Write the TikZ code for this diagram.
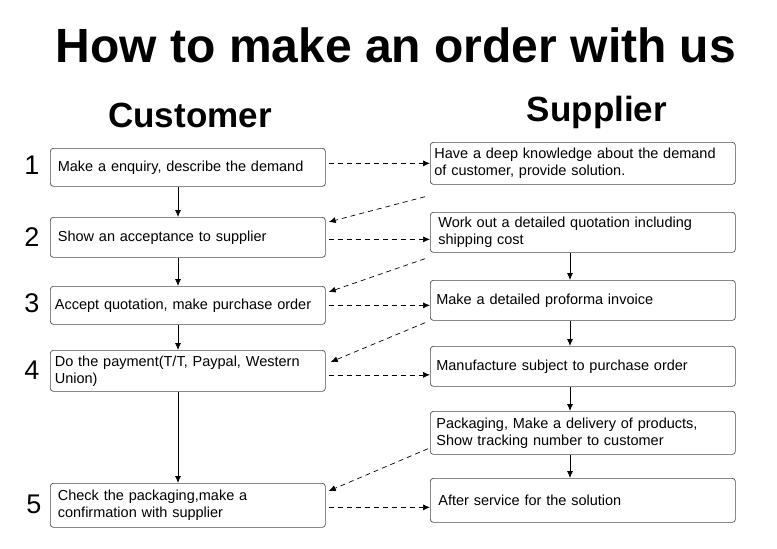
\documentclass[tikz,border=0pt]{standalone}
\usepackage{fontspec}
\setmainfont{Liberation Sans}
\usetikzlibrary{arrows.meta}
\begin{document}
\begin{tikzpicture}[x=1pt,y=-1pt,
 box/.style={draw=black!70,rounded corners=3pt,line width=0.7pt,anchor=north west,inner xsep=0pt,inner ysep=0pt,align=left,font=\fontsize{14.5}{17}\selectfont},
 num/.style={font=\fontsize{27}{27}\selectfont},
 sarr/.style={-{Latex[length=7pt,width=6pt]},line width=0.8pt},
 darr/.style={-{Latex[length=7pt,width=6pt]},dash pattern=on 5pt off 4pt,line width=0.7pt}]
\useasboundingbox (0,0) rectangle (777,549);
\node[font=\bfseries\fontsize{48}{48}\selectfont] (title) at (396,45) {How to make an order with us};
\node[font=\bfseries\fontsize{35}{35}\selectfont] (cust) at (190,115) {Customer};
\node[font=\bfseries\fontsize{35}{35}\selectfont] (sup) at (597,112) {Supplier};
% left boxes
\node[box,minimum width=275pt,minimum height=38pt,text width=272pt] (L1) at (50,148) {\hspace*{6pt}Make a enquiry, describe the demand};
\node[box,minimum width=275pt,minimum height=40pt,text width=272pt] (L2) at (50,217) {\hspace*{6pt}Show an acceptance to supplier};
\node[box,minimum width=275pt,minimum height=38pt,text width=272pt] (L3) at (50,286) {\hspace*{3pt}Accept quotation, make purchase order};
\node[box,minimum width=275pt,minimum height=41pt,text width=272pt] (L4) at (50,350) {\hspace*{3pt}Do the payment(T/T, Paypal, Western\\\hspace*{3pt}Union)};
\node[box,minimum width=275pt,minimum height=44pt,text width=272pt] (L5) at (50,483) {\hspace*{6pt}Check the packaging,make a\\\hspace*{6pt}confirmation with supplier};
% right boxes
\node[box,minimum width=305pt,minimum height=42pt,text width=303pt] (R1) at (430,142) {\hspace*{3pt}Have a deep knowledge about the demand\\\hspace*{3pt}of customer, provide solution.};
\node[box,minimum width=305pt,minimum height=40pt,text width=303pt] (R2) at (430,212) {\hspace*{7pt}Work out a detailed quotation including\\\hspace*{7pt}shipping cost};
\node[box,minimum width=305pt,minimum height=40pt,text width=303pt] (R3) at (430,280) {\hspace*{5pt}Make a detailed proforma invoice};
\node[box,minimum width=305pt,minimum height=40pt,text width=303pt] (R4) at (430,346) {\hspace*{5pt}Manufacture subject to purchase order};
\node[box,minimum width=305pt,minimum height=43pt,text width=303pt] (R5) at (430,411) {\hspace*{5pt}Packaging, Make a delivery of products,\\\hspace*{5pt}Show tracking number to customer};
\node[box,minimum width=305pt,minimum height=44pt,text width=303pt] (R6) at (430,478) {\hspace*{7pt}After service for the solution};
% numbers
\node[num] (n1) at (32,165) {1};
\node[num] (n2) at (32,237) {2};
\node[num] (n3) at (32,303) {3};
\node[num] (n4) at (32,370) {4};
\node[num] (n5) at (34,504) {5};
% vertical arrows
\draw[sarr] (L1.south -| 178,0) -- (L2.north -| 178,0);
\draw[sarr] (L2.south -| 178,0) -- (L3.north -| 178,0);
\draw[sarr] (L3.south -| 178,0) -- (L4.north -| 178,0);
\draw[sarr] (L4.south -| 178,0) -- (L5.north -| 178,0);
\draw[sarr] (R2.south -| 570,0) -- (R3.north -| 570,0);
\draw[sarr] (R3.south -| 570,0) -- (R4.north -| 570,0);
\draw[sarr] (R4.south -| 570,0) -- (R5.north -| 570,0);
\draw[sarr] (R5.south -| 570,0) -- (R6.north -| 570,0);
% horizontal dashed
\draw[darr] ([xshift=3pt,yshift=4pt]L1.east) -- ([yshift=4pt]L1.east -| R1.west);
\draw[darr] ([xshift=3pt,yshift=-2pt]L2.east) -- ([yshift=-2pt]L2.east -| R2.west);
\draw[darr] ([xshift=3pt]L3.east) -- (L3.east -| R3.west);
\draw[darr] ([xshift=3pt,yshift=-4pt]L4.east) -- ([yshift=-4pt]L4.east -| R4.west);
\draw[darr] ([xshift=3pt,yshift=-2pt]L5.east) -- ([yshift=-2pt]L5.east -| R6.west);
% diagonal dashed
\draw[darr] ([xshift=-5pt,yshift=-12pt]R1.south west) -- ([xshift=3pt,yshift=-5pt]L2.north east);
\draw[darr] ([xshift=-5pt,yshift=-6pt]R2.south west) -- ([xshift=3pt,yshift=-6pt]L3.north east);
\draw[darr] ([xshift=-5pt,yshift=-2pt]R3.south west) -- ([xshift=5pt,yshift=-12pt]L4.north east);
\draw[darr] ([xshift=-2pt,yshift=6pt]R5.south west) -- ([xshift=3pt,yshift=-8pt]L5.north east);
\end{tikzpicture}
\end{document}
